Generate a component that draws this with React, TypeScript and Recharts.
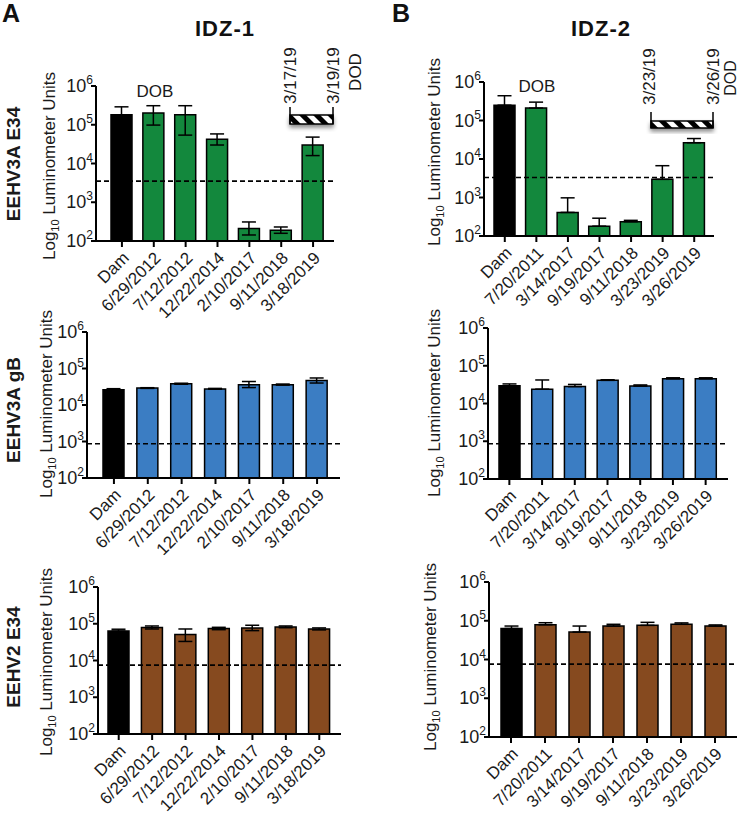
import React from "react";
import { Bar, BarChart, Cell, ErrorBar, ReferenceLine, XAxis, YAxis } from "recharts";

const FONT = "'Liberation Sans', Arial, Helvetica, sans-serif";

const idz1Dates = ["Dam", "6/29/2012", "7/12/2012", "12/22/2014", "2/10/2017", "9/11/2018", "3/18/2019"];
const idz2Dates = ["Dam", "7/20/2011", "3/14/2017", "9/19/2017", "9/11/2018", "3/23/2019", "3/26/2019"];
const logTicks = [100, 1000, 10000, 100000, 1000000];

// IDZ-1, EEHV3A E34
const idz1E34Mean = [180000, 200000, 180000, 42000, 210, 190, 30000];
const idz1E34Upper = [290000, 310000, 310000, 58000, 310, 230, 48000];
const idz1E34Lower = [180000, 98000, 54000, 30000, 143, 158, 16000];
// IDZ-2, EEHV3A E34
const idz2E34Mean = [250000, 210000, 410, 180, 235, 2960, 26500];
const idz2E34Upper = [440000, 300000, 980, 290, 255, 6700, 34000];

// IDZ-1, EEHV3A gB
const idz1GbMean = [26000, 29000, 38000, 27500, 36000, 36000, 47000];
const idz1GbUpper = [28000, 29800, 39500, 28500, 44000, 37500, 55000];
const idz1GbLower = [26000, 28500, 37000, 27000, 30000, 35000, 40000];
// IDZ-2, EEHV3A gB
const idz2GbMean = [29500, 24000, 28000, 41000, 29000, 45000, 45000];
const idz2GbUpper = [33000, 42000, 32000, 42500, 31000, 48000, 48000];

// IDZ-1, EEHV2 E34
const idz1E2Mean = [63000, 79000, 51000, 74000, 77000, 82000, 72000];
const idz1E2Upper = [71000, 87000, 72000, 80000, 91000, 87000, 77000];
const idz1E2Lower = [63000, 72000, 33000, 69000, 65000, 78000, 68000];
// IDZ-2, EEHV2 E34
const idz2E2Mean = [63000, 79000, 51000, 73000, 76000, 81000, 73000];
const idz2E2Upper = [73000, 89000, 73000, 81000, 91000, 88000, 78000];

// assay cut-offs (dashed lines)
const cutoffs = { idz1E34: 3500, idz2E34: 3300, idz1Gb: 870, idz2Gb: 860, idz1E2: 7500, idz2E2: 7600 };

const GREEN = "#13883d";
const BLUE = "#3b7dc3";
const BROWN = "#864a1f";

const DateTick = (props: any) => {
  const { x, y, payload } = props;
  return (
    <text
      x={0}
      y={0}
      transform={`translate(${x + 8},${y + 10}) rotate(-45)`}
      textAnchor="end"
      fontSize={17}
      fontFamily={FONT}
      fill="#1a1a1a"
    >
      {payload.value}
    </text>
  );
};

const PowerTick = (props: any) => {
  const { x, y, payload } = props;
  const exp = Math.round(Math.log10(payload.value));
  return (
    <text x={x + 4} y={y + 6} textAnchor="end" fontSize={18} fontFamily={FONT} fill="#1a1a1a">
      10
      <tspan dy={-8} fontSize={12}>
        {exp}
      </tspan>
    </text>
  );
};

type PanelProps = {
  x0: number;
  x1: number;
  y0: number;
  y1: number;
  padL: number;
  padR: number;
  dates: string[];
  mean: number[];
  upper: number[];
  lower: number[];
  cutoff: number;
  color: string;
};

const ML = 55;
const MT = 25;
const MR = 10;
const XH = 90;

function Panel({ x0, x1, y0, y1, padL, padR, dates, mean, upper, lower, cutoff, color }: PanelProps) {
  const data = dates.map((d, i) => ({
    date: d,
    value: mean[i],
    err: [mean[i] - lower[i], upper[i] - mean[i]],
  }));
  const width = x1 - x0 + ML + MR;
  const height = y1 - y0 + MT + XH;
  const axisStyle = { stroke: "#000", strokeWidth: 2 };
  const margin = { top: MT, right: MR, left: 0, bottom: 0 };

  return (
    <div style={{ position: "absolute", left: x0 - ML, top: y0 - MT, width, height }}>
      <div style={{ position: "absolute", left: 0, top: 0 }}>
        <BarChart width={width} height={height} data={data} margin={margin} barSize={21}>
          <XAxis
            dataKey="date"
            type="category"
            interval={0}
            padding={{ left: padL, right: padR }}
            height={XH}
            tick={<DateTick />}
            axisLine={axisStyle}
            tickLine={axisStyle}
            tickSize={6}
          />
          <YAxis
            type="number"
            scale="log"
            domain={[100, 1000000]}
            ticks={logTicks}
            allowDataOverflow
            width={ML}
            tick={<PowerTick />}
            axisLine={axisStyle}
            tickLine={axisStyle}
            tickSize={5}
          />
          <Bar dataKey="value" isAnimationActive={false} stroke="#000" strokeWidth={1.5}>
            {data.map((d, i) => (
              <Cell key={d.date} fill={i === 0 ? "#000" : color} />
            ))}
            <ErrorBar dataKey="err" direction="y" width={7} stroke="#000" strokeWidth={1.5} isAnimationActive={false} />
          </Bar>
        </BarChart>
      </div>
      {/* cut-off line drawn on top of the bars */}
      <div style={{ position: "absolute", left: 0, top: 0, pointerEvents: "none" }}>
        <BarChart width={width} height={height} data={data} margin={margin}>
          <XAxis dataKey="date" type="category" padding={{ left: padL, right: padR }} height={XH} tick={false} axisLine={false} tickLine={false} />
          <YAxis type="number" scale="log" domain={[100, 1000000]} ticks={logTicks} allowDataOverflow width={ML} tick={false} axisLine={false} tickLine={false} />
          <ReferenceLine y={cutoff} stroke="#000" strokeWidth={1.6} strokeDasharray="5 3" />
        </BarChart>
      </div>
    </div>
  );
}

function YLabel({ x, y }: { x: number; y: number }) {
  return (
    <text transform={`translate(${x},${y}) rotate(-90)`} textAnchor="middle" fontSize={17} fontFamily={FONT} fill="#1a1a1a">
      Log
      <tspan fontSize={11} dy={4}>
        10
      </tspan>
      <tspan dy={-4}> Luminometer Units</tspan>
    </text>
  );
}

function Rot({ x, y, text, anchor = "start", bold = false, size = 17 }: any) {
  return (
    <text
      transform={`translate(${x},${y}) rotate(-90)`}
      textAnchor={anchor}
      fontSize={size}
      fontWeight={bold ? "bold" : "normal"}
      fontFamily={FONT}
      fill="#1a1a1a"
    >
      {text}
    </text>
  );
}

function HatchBox({ x0, x1, y0, y1, tickTop }: { x0: number; x1: number; y0: number; y1: number; tickTop: number }) {
  return (
    <g>
      <rect x={x0} y={y0} width={x1 - x0} height={y1 - y0} fill="url(#hatch)" stroke="#000" strokeWidth={1.5} filter="url(#shadow)" />
      <line x1={x0} x2={x0} y1={tickTop} y2={y1} stroke="#000" strokeWidth={1.5} />
      <line x1={x1} x2={x1} y1={tickTop} y2={y1} stroke="#000" strokeWidth={1.5} />
    </g>
  );
}

export default function App() {
  return (
    <div style={{ position: "relative", width: 742, height: 825, background: "#fff", fontFamily: FONT, overflow: "hidden" }}>
      <style>{"body{margin:0}"}</style>

      <Panel x0={96} x1={334} y0={86} y1={241} padL={10} padR={5} dates={idz1Dates}
        mean={idz1E34Mean} upper={idz1E34Upper} lower={idz1E34Lower} cutoff={cutoffs.idz1E34} color={GREEN} />
      <Panel x0={484} x1={714} y0={82} y1={236} padL={5} padR={4} dates={idz2Dates}
        mean={idz2E34Mean} upper={idz2E34Upper} lower={idz2E34Mean} cutoff={cutoffs.idz2E34} color={GREEN} />

      <Panel x0={87} x1={340} y0={332} y1={478} padL={10} padR={6} dates={idz1Dates}
        mean={idz1GbMean} upper={idz1GbUpper} lower={idz1GbLower} cutoff={cutoffs.idz1Gb} color={BLUE} />
      <Panel x0={488} x1={728} y0={328} y1={479} padL={5} padR={6} dates={idz2Dates}
        mean={idz2GbMean} upper={idz2GbUpper} lower={idz2GbMean} cutoff={cutoffs.idz2Gb} color={BLUE} />

      <Panel x0={98} x1={341} y0={587} y1={734} padL={4} padR={5} dates={idz1Dates}
        mean={idz1E2Mean} upper={idz1E2Upper} lower={idz1E2Lower} cutoff={cutoffs.idz1E2} color={BROWN} />
      <Panel x0={489} x1={737} y0={582} y1={737} padL={5} padR={5} dates={idz2Dates}
        mean={idz2E2Mean} upper={idz2E2Upper} lower={idz2E2Mean} cutoff={cutoffs.idz2E2} color={BROWN} />

      <svg width={742} height={825} style={{ position: "absolute", left: 0, top: 0, pointerEvents: "none" }}>
        <defs>
          <pattern id="hatch" patternUnits="userSpaceOnUse" width={10} height={10} patternTransform="rotate(-45)">
            <rect width={10} height={10} fill="#fff" />
            <rect width={5} height={10} fill="#000" />
          </pattern>
          <filter id="shadow" x="-20%" y="-40%" width="140%" height="220%">
            <feDropShadow dx={0} dy={3} stdDeviation={2} floodColor="#000" floodOpacity={0.45} />
          </filter>
        </defs>

        <text x={2} y={22} fontSize={25} fontWeight="bold" fontFamily={FONT} fill="#111">A</text>
        <text x={392} y={22} fontSize={25} fontWeight="bold" fontFamily={FONT} fill="#111">B</text>
        <text x={225} y={36} textAnchor="middle" fontSize={22} fontWeight="bold" fontFamily={FONT} fill="#111" letterSpacing={1}>IDZ-1</text>
        <text x={601} y={36} textAnchor="middle" fontSize={22} fontWeight="bold" fontFamily={FONT} fill="#111" letterSpacing={1}>IDZ-2</text>

        <Rot x={20} y={164} text="EEHV3A E34" anchor="middle" bold size={19} />
        <Rot x={20} y={410} text="EEHV3A gB" anchor="middle" bold size={19} />
        <Rot x={20} y={657} text="EEHV2 E34" anchor="middle" bold size={19} />

        <YLabel x={55} y={166} />
        <YLabel x={52} y={404} />
        <YLabel x={52} y={662} />
        <YLabel x={440} y={152} />
        <YLabel x={440} y={403} />
        <YLabel x={436} y={657} />

        <text x={155} y={97} textAnchor="middle" fontSize={17} fontFamily={FONT} fill="#1a1a1a">DOB</text>
        <text x={537} y={92} textAnchor="middle" fontSize={17} fontFamily={FONT} fill="#1a1a1a">DOB</text>

        <HatchBox x0={290} x1={333} y0={115} y1={124} tickTop={107} />
        <Rot x={296} y={104} text="3/17/19" />
        <Rot x={339} y={104} text="3/19/19" />
        <Rot x={361} y={72} text="DOD" anchor="middle" />

        <HatchBox x0={651} x1={713} y0={121} y1={128} tickTop={112} />
        <Rot x={655} y={105} text="3/23/19" />
        <Rot x={719} y={105} text="3/26/19" />
        <Rot x={736} y={78} text="DOD" anchor="middle" size={16} />
      </svg>
    </div>
  );
}
